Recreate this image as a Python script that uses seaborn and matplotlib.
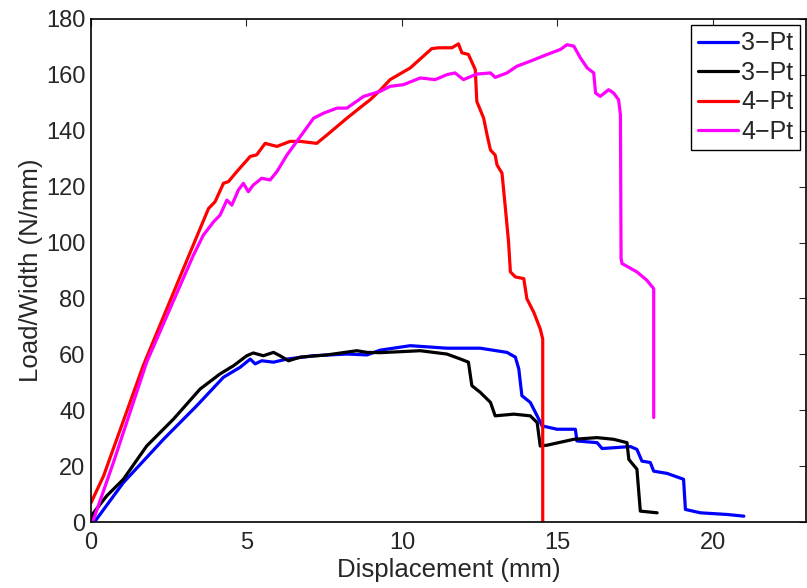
import numpy as np
import pandas as pd
import matplotlib
matplotlib.use('Agg')
import matplotlib.pyplot as plt
import seaborn as sns

# 3-Pt test, specimen 1 (blue)
x_3pt_a = [0.0, 0.13, 1.04, 2.33, 3.40, 4.26, 4.80, 5.12, 5.28, 5.49, 5.87, 6.30, 7.16, 8.23, 8.88, 9.30,
           10.27, 11.45, 12.52, 13.38, 13.65, 13.76, 13.86, 14.13, 14.35, 14.51, 14.99, 15.58, 15.63, 16.28,
           16.44, 17.35, 17.56, 17.72, 17.99, 18.10, 18.53, 19.06, 19.12, 19.60, 20.46, 21.0]
y_3pt_a = [0.0, 0.3, 14.1, 29.6, 41.6, 51.8, 55.4, 58.3, 56.6, 57.7, 57.2, 58.3, 59.5, 60.1, 59.8, 61.5,
           63.1, 62.2, 62.2, 60.7, 59.0, 54.8, 45.2, 42.8, 38.0, 34.4, 33.2, 33.2, 29.0, 28.4,
           26.3, 27.0, 26.0, 21.8, 21.3, 18.2, 17.4, 15.3, 4.5, 3.3, 2.7, 2.1]

# 3-Pt test, specimen 2 (black)
x_3pt_b = [0.0, 0.08, 0.50, 1.04, 1.79, 2.65, 3.51, 4.15, 4.58, 5.01, 5.22, 5.54, 5.87, 6.08, 6.35, 6.73,
           7.59, 8.55, 8.88, 9.30, 10.59, 11.45, 11.89, 12.14, 12.25, 12.52, 12.85, 13.0, 13.60, 14.13,
           14.35, 14.45, 14.67, 15.53, 16.28, 16.81, 17.24, 17.30, 17.56, 17.67, 18.21]
y_3pt_b = [0.0, 3.3, 9.3, 15.3, 27.2, 36.8, 47.6, 53.0, 55.9, 59.5, 60.5, 59.5, 60.7, 59.5, 57.7, 59.0,
           59.8, 61.3, 60.7, 60.6, 61.3, 60.1, 58.3, 57.2, 48.8, 46.4, 42.8, 38.0, 38.6, 38.0,
           35.6, 27.2, 27.5, 29.6, 30.2, 29.6, 28.4, 22.4, 18.9, 3.9, 3.3]

# 4-Pt test, specimen 1 (red)
x_4pt_a = [0.0, 0.40, 1.68, 3.13, 3.78, 3.99, 4.26, 4.42, 4.69, 5.12, 5.33, 5.60, 5.98, 6.40, 6.73, 7.26,
           7.59, 8.23, 8.77, 8.98, 9.30, 9.62, 10.27, 10.96, 11.18, 11.61, 11.82, 11.93, 12.14, 12.36,
           12.41, 12.63, 12.74, 12.85, 13.0, 13.06, 13.22, 13.33, 13.43, 13.49, 13.65, 13.92, 14.02,
           14.24, 14.45, 14.53, 14.53]
y_4pt_a = [6.9, 16.4, 56.0, 94.9, 112.2, 114.6, 121.2, 121.8, 125.4, 130.8, 131.4, 135.5, 134.4, 136.2, 136.2, 135.5,
           138.5, 144.5, 149.3, 151.1, 154.5, 158.3, 162.5, 169.4, 169.7, 169.7, 171.1, 167.9, 167.3, 161.9,
           150.5, 144.5, 138.5, 133.1, 131.3, 127.8, 124.8, 112.2, 100.3, 89.5, 87.7, 87.1, 79.9,
           75.1, 69.1, 65.5, 0.0]

# 4-Pt test, specimen 2 (magenta)
x_4pt_b = [0.0, 0.08, 0.72, 1.79, 3.29, 3.61, 3.94, 4.15, 4.37, 4.53, 4.74, 4.90, 5.06, 5.22, 5.49, 5.76,
           5.98, 6.30, 6.62, 7.16, 7.48, 7.91, 8.23, 8.77, 9.30, 9.62, 10.05, 10.59, 11.07, 11.45, 11.71,
           11.98, 12.41, 12.85, 13.0, 13.38, 13.70, 14.13, 14.67, 15.10, 15.31, 15.53, 15.74, 15.96,
           16.17, 16.23, 16.38, 16.65, 16.81, 16.97, 17.03, 17.05, 17.08, 17.56, 17.88, 18.10, 18.10]
y_4pt_b = [0.0, 0.9, 21.3, 57.2, 95.4, 102.6, 107.4, 109.8, 115.2, 113.4, 118.8, 121.2, 118.2, 120.6, 123.0, 122.4,
           125.4, 131.3, 136.2, 144.5, 146.3, 148.1, 148.1, 152.3, 154.1, 155.9, 156.5, 158.9, 158.3, 160.1, 160.7,
           158.3, 160.3, 160.7, 159.1, 160.7, 163.1, 164.9, 167.3, 169.1, 170.8, 170.3, 166.1, 162.5,
           160.7, 153.5, 152.3, 154.7, 153.5, 151.1, 145.7, 94.3, 92.5, 89.5, 86.5, 83.5, 37.4]

labels = ['3\u2212Pt', '3\u2212Pt', '4\u2212Pt', '4\u2212Pt']
colors = ['#0000ff', '#000000', '#ff0000', '#ff00ff']
series = [(x_3pt_a, y_3pt_a), (x_3pt_b, y_3pt_b), (x_4pt_a, y_4pt_a), (x_4pt_b, y_4pt_b)]

sns.set_style('white')
plt.rcParams['font.family'] = ['Liberation Sans', 'DejaVu Sans']

fig, ax = plt.subplots(figsize=(8.07, 5.88), dpi=100)
fig.subplots_adjust(left=0.1128, right=0.9988, bottom=0.1122, top=0.9677)

for (xs, ys), lab, col in zip(series, labels, colors):
    df = pd.DataFrame({'x': xs, 'y': ys})
    sns.lineplot(data=df, x='x', y='y', sort=False, estimator=None,
                 color=col, linewidth=2.3, label=lab, ax=ax)

ax.set_xlim(0, 23)
ax.set_ylim(0, 180)
ax.set_xticks([0, 5, 10, 15, 20])
ax.set_yticks(np.arange(0, 181, 20))
ax.set_xlabel('Displacement (mm)', fontsize=18.5, labelpad=3)
ax.set_ylabel('Load/Width (N/mm)', fontsize=18.5, labelpad=2)
ax.tick_params(direction='in', top=True, right=True, length=5, width=0.8,
               labelsize=17)
ax.tick_params(axis='x', pad=7)
ax.tick_params(axis='y', pad=4)
for sp in ax.spines.values():
    sp.set_linewidth(1.2)
    sp.set_color('black')

leg = ax.legend(loc='upper right', fontsize=18, frameon=True, fancybox=False,
                edgecolor='black', framealpha=1, handlelength=1.6,
                labelspacing=0.22, borderaxespad=0.25, borderpad=0.25, handletextpad=0.15)
leg.get_frame().set_linewidth(1.0)

fig.savefig('out.png', dpi=100)
